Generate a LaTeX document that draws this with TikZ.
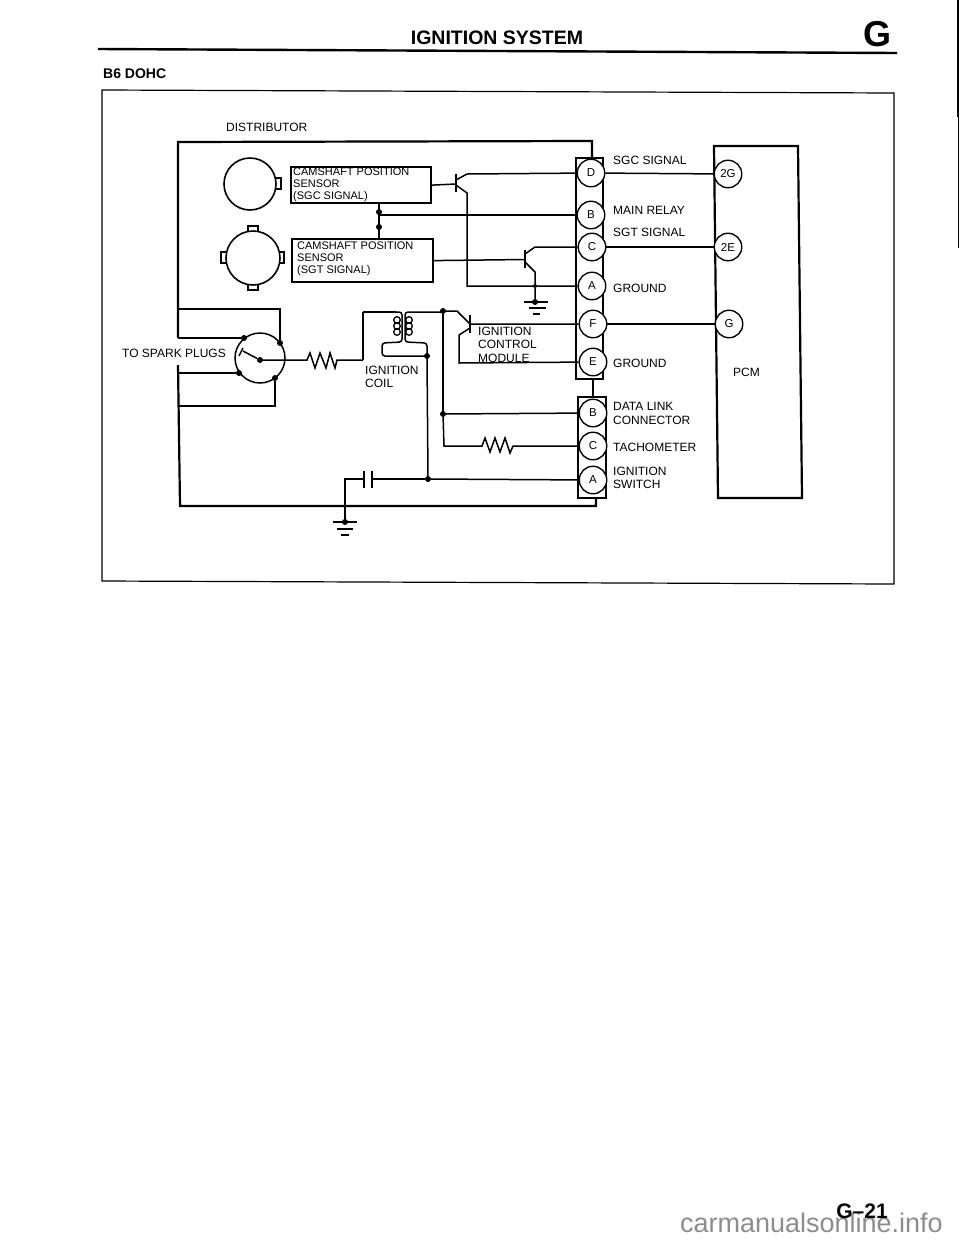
\documentclass[tikz,border=0pt]{standalone}
\usepackage{fontspec}
\setmainfont{Liberation Sans}
\tikzset{
    wire/.style={line width=1.5pt},
    heavy/.style={line width=2.2pt},
    term/.style={draw, circle, line width=1.4pt, minimum size=27.5pt, inner sep=0pt, fill=white, font=\fontsize{11.5}{11.5}\selectfont},
    joint/.style={circle, fill=black, minimum size=6pt, inner sep=0pt},
    lbl/.style={anchor=west, align=left, inner sep=0pt, font=\fontsize{12}{13.5}\selectfont},
    senslbl/.style={anchor=west, align=left, inner sep=0pt, font=\fontsize{11}{12.2}\selectfont},
    sensbox/.style={draw, line width=2.2pt, inner sep=0pt, anchor=north west}
}
\begin{document}
\begin{tikzpicture}[x=1pt,y=-1pt]
    \useasboundingbox (0,0) rectangle (960,1240);

    %page
    \node (title) at (497,38) [font=\fontsize{19.5}{20}\bfseries\selectfont]{IGNITION SYSTEM};
    \node (sect) at (877,34) [font=\fontsize{36}{36}\bfseries\selectfont]{G};
    \node (engine) at (103,74) [anchor=west, inner sep=0pt, font=\fontsize{14}{15}\bfseries\selectfont]{B6 DOHC};
    \node (wmark) at (943,1232) [anchor=base east, inner sep=0pt, text=black!45, font=\fontsize{27}{27}\selectfont]{carmanualsonline.info};
    \node (pageno) at (862,1211) [font=\fontsize{21}{21}\bfseries\selectfont]{G--21};
    \draw[line width=2.4pt](98,49)--(897,53);
    \draw[line width=1.2pt](102,90)--(894,93)--(894,584)--(102,581)--cycle;
    \draw[line width=2pt](958,0)--(958,117);
    \draw[line width=1pt](958,117)--(958,248);

    %connector boxes and terminals
    \draw[heavy](576,158) rectangle (603,379);
    \draw[heavy](578,397) rectangle (606,498);
    \node[term] (pinD) at (591,173) {D};
    \node[term] (pinB) at (591,215) {B};
    \node[term] (pinC) at (592,247) {C};
    \node[term] (pinA) at (592,286) {A};
    \node[term] (pinF) at (593,324) {F};
    \node[term] (pinE) at (593,362) {E};
    \node[term] (linkB) at (593,413) {B};
    \node[term] (linkC) at (593,446) {C};
    \node[term] (linkA) at (593,480) {A};
    \draw[heavy](593,379)--(593,397);

    %PCM
    \draw[heavy](714,146)--(798,146)--(802,498)--(718,498)--cycle;
    \node[term] (pcmG2) at (728,174) {2G};
    \node[term] (pcmE2) at (728,247) {2E};
    \node[term] (pcmG) at (729,324) {G};
    \draw[wire](pinD)--(pcmG2);
    \draw[wire](pinC)--(pcmE2);
    \draw[wire](pinF)--(pcmG);

    %distributor frame
    \coordinate (ftop) at (178,142);
    \coordinate (fgap) at (178,338);
    \coordinate (fgapb) at (178,365);
    \coordinate (fbot) at (180,506);
    \draw[heavy](fgap)--(ftop)--(592,141)--(592,158);
    \draw[heavy](fgapb)--(fbot)--(596,506)--(596,498);
    \node (distlbl) at (226,127) [lbl]{DISTRIBUTOR};

    %sensors
    \draw[line width=1.6pt](250,184) circle (26);
    \draw[line width=1.6pt](276,178)--(281,178)--(281,189)--(276,189);
    \draw[line width=1.6pt](253,258) circle (27);
    \draw[line width=1.6pt](248,231)--(248,226)--(258,226)--(258,231);
    \draw[line width=1.6pt](248,285)--(248,290)--(258,290)--(258,285);
    \draw[line width=1.6pt](226,252)--(221,252)--(221,263)--(226,263);
    \draw[line width=1.6pt](280,252)--(284,252)--(284,263)--(280,263);
    \node[sensbox, minimum width=140pt, minimum height=36pt] (sensC) at (290,166) {};
    \node[sensbox, minimum width=141pt, minimum height=43pt] (sensT) at (291,238) {};
    \node (sensClbl) at (293,185) [senslbl]{CAMSHAFT POSITION\\SENSOR\\(SGC SIGNAL)};
    \node (sensTlbl) at (297,259) [senslbl]{CAMSHAFT POSITION\\SENSOR\\(SGT SIGNAL)};
    \node[joint] (jsensC) at (379,212) {};
    \node[joint] (jsensT) at (379,227) {};
    \draw[heavy](jsensC |- sensC.south)--(jsensT |- sensT.north);
    \draw[wire](379,215)--(pinB);

    %SGC transistor
    \coordinate (baseC) at (456,184);
    \coordinate (emitC) at (467,193);
    \coordinate (jgndA) at (467,286);
    \draw[wire](sensC.east)--(baseC);
    \draw[heavy](456,174)--(456,192);
    \draw[wire](456,180)--(467,174)--(pinD);
    \draw[wire](456,185)--(emitC)--(jgndA)--(pinA);

    %SGT transistor
    \coordinate (baseT) at (525,259.5);
    \draw[wire](sensT.east)--(baseT);
    \draw[heavy](525,250)--(525,268);
    \draw[wire](525,254)--(535,247)--(pinC);
    \node[joint, minimum size=4pt] (jgndT) at (535,286) {};
    \node[joint] (gndT) at (535,302) {};
    \draw[wire](525,262)--(535,272)--(jgndT)--(gndT);
    \draw[wire](524,302)--(548,302);
    \draw[wire](529,308)--(546,308);
    \draw[wire](533,314)--(540,314);

    %spark plugs
    \node (plugslbl) at (122,353) [lbl]{TO SPARK PLUGS};
    \draw[line width=1.5pt](260,358) circle (25);
    \node[joint] (rotor) at (260,360) {};
    \node[joint] (plug1) at (280,343) {};
    \node[joint] (plug2) at (244,338) {};
    \node[joint] (plug3) at (239,373) {};
    \node[joint] (plug4) at (275,378) {};
    \draw[heavy](178,309)--(280,309)--(plug1);
    \draw[heavy](178,338)--(plug2);
    \draw[wire](178,373)--(plug3);
    \draw[heavy](178,406)--(275,406)--(plug4);
    \draw[wire](rotor)--(243,351);
    \draw[wire](239,356)--(243,348);

    %coil feed
    \draw[wire](rotor)--(307,360)--(310,353)--(315,368)--(320,353)--(326,368)--(330,353)--(335,368)--(337,360)--(363,360);
    \draw[heavy](363,360)--(363,312);
    \draw[wire](363,312)--(396,312);

    %coil
    \draw[wire,rounded corners=3pt](396,312)--(402,312)--(402,342)--(382,343)--(382,356)--(427,356);
    \draw[wire,rounded corners=3pt](443,312)--(405,312)--(405,342)--(427,343)--(427,356);
    \foreach \yy in {320,326,332}{
        \draw[line width=1.3pt](397,\yy) circle (3.3);
        \draw[line width=1.3pt](409,\yy) circle (3.3);
    }
    \node (coillbl) at (365,377) [lbl]{IGNITION\\COIL};

    %ignition feed and capacitor
    \node[joint] (jcoil) at (427,356) {};
    \node[joint] (jfeed) at (428,479) {};
    \draw[wire](jcoil)--(jfeed);
    \draw[wire](jfeed)--(linkA);
    \draw[wire](jfeed)--(372,479);
    \draw[heavy](372,471)--(372,488);
    \draw[heavy](364,471)--(364,488);
    \coordinate (gndcap) at (345,522);
    \draw[wire](364,479)--(345,479)--(gndcap);
    \node[joint] (gndC) at (gndcap) {};
    \draw[wire](333,522)--(357,522);
    \draw[wire](337,529)--(353,529);
    \draw[wire](341,535)--(349,535);

    %module
    \node[joint] (jmod) at (443,311) {};
    \node[joint] (jlink) at (443,414) {};
    \draw[wire](jmod)--(jlink);
    \draw[wire](jlink)--(linkB);
    \draw[wire](jlink)--(444,446)--(482,446)--(485,438)--(490,452)--(495,438)--(500,452)--(505,438)--(510,453)--(513,446)--(linkC);
    \draw[wire](jmod)--(457,311)--(470,324)--(pinF);
    \draw[heavy](470,315)--(470,333);
    \draw[wire](470,328)--(459,335)--(459,363)--(pinE);
    \node (modlbl) at (478,344.5) [lbl]{IGNITION\\CONTROL\\MODULE};

    %labels
    \node (sgclbl) at (613,160) [lbl]{SGC SIGNAL};
    \node (relaylbl) at (613,210) [lbl]{MAIN RELAY};
    \node (sgtlbl) at (613,232) [lbl]{SGT SIGNAL};
    \node (gndlblA) at (613,288) [lbl]{GROUND};
    \node (gndlblE) at (613,363) [lbl]{GROUND};
    \node (dlclbl) at (613,413.5) [lbl]{DATA LINK\\CONNECTOR};
    \node (tacholbl) at (613,447) [lbl]{TACHOMETER};
    \node (switchlbl) at (613,478) [lbl]{IGNITION\\SWITCH};
    \node (pcmlbl) at (733,372) [lbl]{PCM};
\end{tikzpicture}
\end{document}
